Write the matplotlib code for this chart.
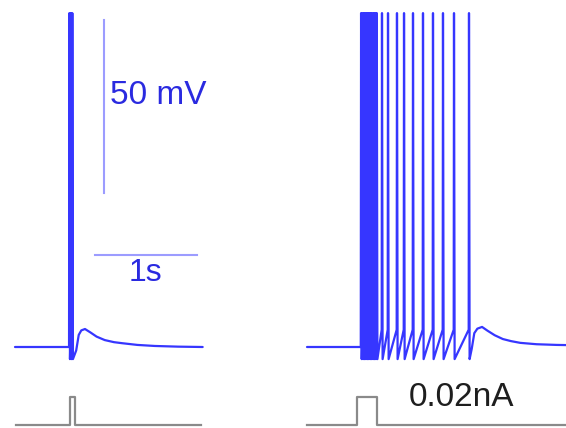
import numpy as np
import matplotlib
matplotlib.use("Agg")
import matplotlib.pyplot as plt

plt.rcParams['font.family'] = ['Liberation Sans', 'DejaVu Sans']

# ---------------- data (s, mV, nA) ----------------
rest_mV = -65.0
peak_mV = 31.5
trough_mV = -68.5
prespike_mV = -60.0

# left panel: single short pulse
left_spikes = [0.533, 0.548, 0.562]
left_recovery_t = [0.600, 0.625, 0.650, 0.686, 0.74, 0.80, 0.88, 0.97, 1.05,
                   1.20, 1.37, 1.60, 1.84]
left_recovery_v = [-66.0, -61.5, -60.2, -59.8, -60.8, -62.0, -63.0, -63.6,
                   -63.9, -64.4, -64.7, -64.9, -65.0]

# right panel: long pulse -> burst + tonic firing
right_spikes = [0.530, 0.544, 0.558, 0.572, 0.586, 0.600, 0.614, 0.628,
                0.642, 0.656, 0.670, 0.684,
                0.735, 0.794, 0.882, 0.951, 1.039, 1.137, 1.235, 1.333,
                1.441, 1.588]
right_recovery_t = [1.615, 1.64, 1.67, 1.716, 1.77, 1.84, 1.92, 2.00, 2.09,
                    2.25, 2.45, 2.65]
right_recovery_v = [-65.5, -61.0, -59.7, -59.2, -60.3, -61.6, -62.7, -63.3,
                    -63.8, -64.2, -64.4, -64.5]

# current steps
pulse_amp_nA = 0.02
left_pulse = (0.528, 0.578)
left_i_end = 1.81
right_pulse = (0.490, 0.686)
right_i_end = 2.65

# panel offsets (s)
left_offset = 0.147
right_offset = 3.01

# scale bars
sb_mV = 50
sb_s = 1.0


def build_trace(spikes, rec_t, rec_v):
    t = [0.0, spikes[0] - 0.003]
    v = [rest_mV, rest_mV]
    for i, ts in enumerate(spikes):
        if i > 0:
            t.append(ts - 0.003)
            v.append(prespike_mV)
        t += [ts, ts + 0.006]
        v += [peak_mV, trough_mV]
    t += list(rec_t)
    v += list(rec_v)
    return np.array(t), np.array(v)


def build_current(pulse, end):
    t = [0.0, pulse[0], pulse[0], pulse[1], pulse[1], end]
    i = [0.0, 0.0, pulse_amp_nA, pulse_amp_nA, 0.0, 0.0]
    return np.array(t), np.array(i)


W, H = 566, 428
fig = plt.figure(figsize=(W / 100, H / 100), dpi=100)
px_per_s = 102.0
px_per_mV = 3.46
base_px = 347.0

ax = fig.add_axes([0, 0, 1, 1])
ax.set_xlim(0, W / px_per_s)
ax.set_ylim(rest_mV - (H - base_px) / px_per_mV, rest_mV + base_px / px_per_mV)
ax.axis('off')

trace_color = '#3636ff'
bar_color = '#9c9cff'
text_color = '#2a2ae0'

tl, vl = build_trace(left_spikes, left_recovery_t, left_recovery_v)
tr, vr = build_trace(right_spikes, right_recovery_t, right_recovery_v)
for t, v, off in [(tl, vl, left_offset), (tr, vr, right_offset)]:
    ax.plot(t + off, v, color=trace_color, lw=1.6,
            solid_joinstyle='round', solid_capstyle='round')

# scale bars
vx = 103.5 / px_per_s
vtop = rest_mV + (base_px - 20) / px_per_mV
ax.plot([vx, vx], [vtop - sb_mV, vtop], color=bar_color, lw=1.5)
hx0 = 95 / px_per_s
hy = rest_mV + (base_px - 255) / px_per_mV
ax.plot([hx0, hx0 + sb_s], [hy, hy], color=bar_color, lw=1.5)
ax.text(110 / px_per_s, rest_mV + (base_px - 96) / px_per_mV, '50 mV',
        color=text_color, fontsize=24, ha='left', va='center')
ax.text(145 / px_per_s, rest_mV + (base_px - 273) / px_per_mV, '1s',
        color=text_color, fontsize=23, ha='center', va='center')

# current traces
ax2 = fig.add_axes([0, 0, 1, 1])
px_per_nA = 1400.0
ibase_px = 425.0
ax2.set_xlim(0, W / px_per_s)
ax2.set_ylim(-(H - ibase_px) / px_per_nA, ibase_px / px_per_nA)
ax2.axis('off')
ax2.patch.set_alpha(0)

ti, ii = build_current(left_pulse, left_i_end)
ax2.plot(ti + left_offset + 0.01, ii, color='#8a8a8a', lw=1.6)
ti, ii = build_current(right_pulse, right_i_end)
ax2.plot(ti + right_offset, ii, color='#8a8a8a', lw=1.6)
ax2.text(409 / px_per_s, (ibase_px - 397) / px_per_nA, '0.02nA',
         color='#1e1e1e', fontsize=24, ha='left', va='center')

fig.savefig('out.png', dpi=100)
